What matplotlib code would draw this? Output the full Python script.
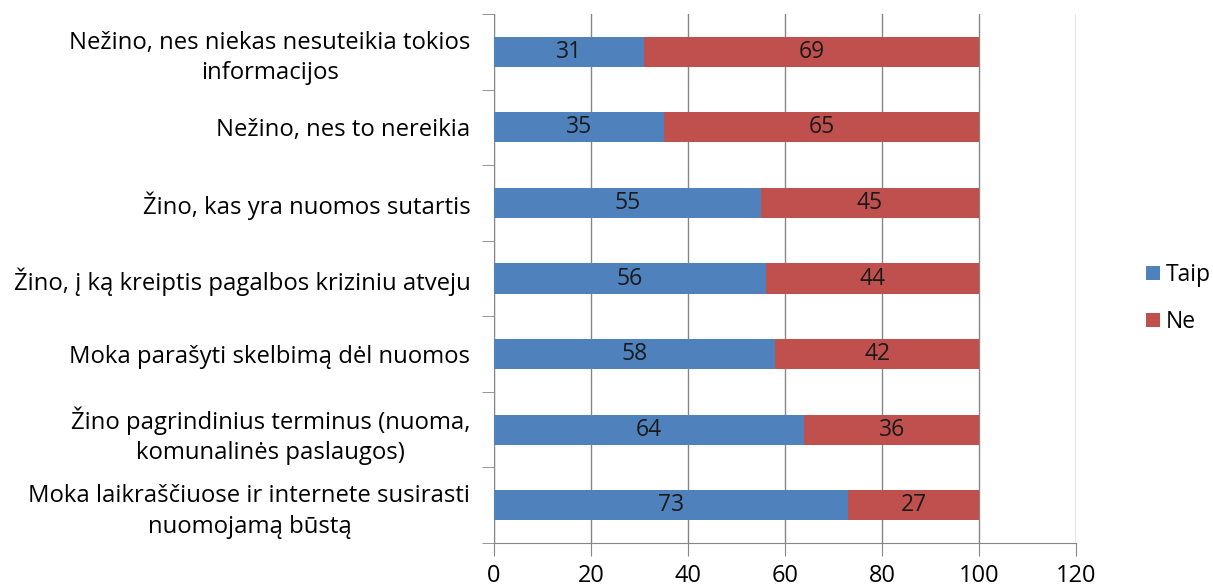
import numpy as np
import matplotlib.pyplot as plt

plt.rcParams['font.family'] = ['Open Sans', 'DejaVu Sans']

# categories top -> bottom
categories = [
    'Nežino, nes niekas nesuteikia tokios\ninformacijos',
    'Nežino, nes to nereikia',
    'Žino, kas yra nuomos sutartis',
    'Žino, į ką kreiptis pagalbos kriziniu atveju',
    'Moka parašyti skelbimą dėl nuomos',
    'Žino pagrindinius terminus (nuoma,\nkomunalinės paslaugos)',
    'Moka laikraščiuose ir internete susirasti\nnuomojamą būstą',
]
taip = [31, 35, 55, 56, 58, 64, 73]
ne = [69, 65, 45, 44, 42, 36, 27]
xticks = [0, 20, 40, 60, 80, 100, 120]

BLUE = '#4F81BD'
RED = '#C0504D'
GRID = '#868686'

fig = plt.figure(figsize=(12.13, 5.88), dpi=100)
ax = fig.add_axes([0.4073, 0.0765, 0.4798, 0.8997])

y = np.arange(len(categories))[::-1]
h = 0.4
b1 = ax.barh(y, taip, height=h, color=BLUE, label='Taip', zorder=3)
b2 = ax.barh(y, ne, left=taip, height=h, color=RED, label='Ne', zorder=3)
for vals, lefts in [(taip, [0] * len(taip)), (ne, taip)]:
    for yy, v, l in zip(y, vals, lefts):
        ax.text(l + v / 2, yy, str(v), ha='center', va='center',
                fontsize=16.5, color='#1a1a1a', zorder=4)

ax.set_xlim(0, 120)
ax.set_ylim(-0.5, len(categories) - 0.5)
ax.set_xticks(xticks)
ax.tick_params(axis='x', labelsize=17, length=9, color=GRID, pad=6)
ax.set_yticks(y)
ax.set_yticklabels(categories, fontsize=17.2, ha='right', multialignment='center',
                   linespacing=1.35)
ax.tick_params(axis='y', which='major', length=0, pad=17)
ax.set_yticks(np.arange(len(categories) + 1) - 0.5, minor=True)
ax.tick_params(axis='y', which='minor', length=9, color=GRID)
ax.grid(True, axis='x', color=GRID, linewidth=1, zorder=0)
for s in ['top', 'right']:
    ax.spines[s].set_visible(False)
for s in ['left', 'bottom']:
    ax.spines[s].set_color(GRID)

ax.legend(loc='center left', bbox_to_anchor=(1.085, 0.462), frameon=False,
          fontsize=16.5, handlelength=0.6, handleheight=0.6, handletextpad=0.25,
          labelspacing=1.0)

fig.savefig('out.png', dpi=100)
